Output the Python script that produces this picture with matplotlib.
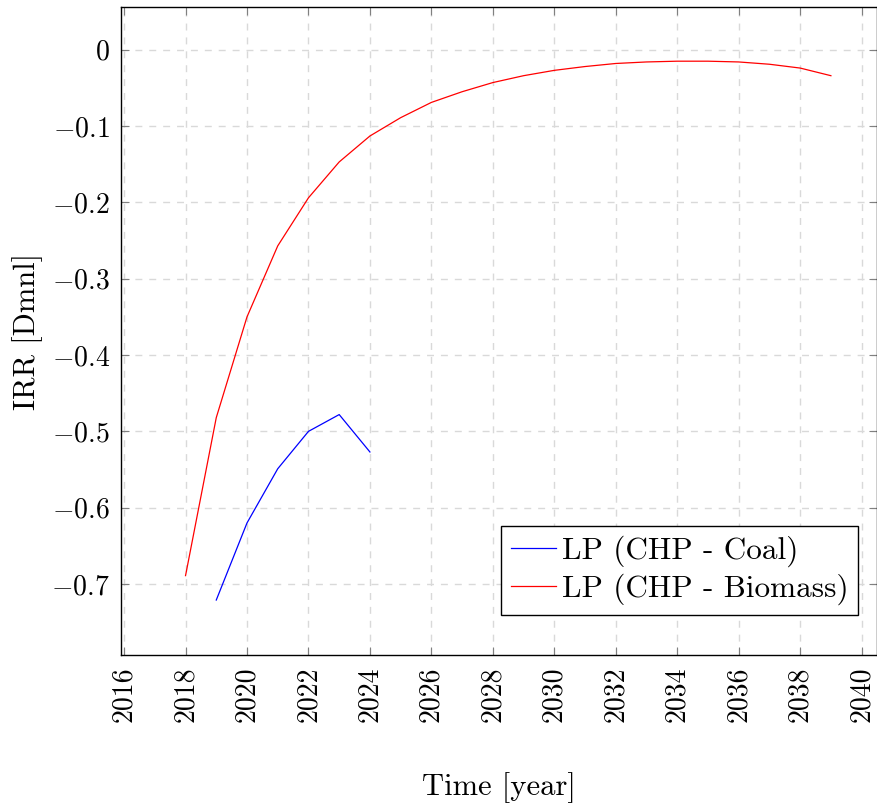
import numpy as np
import matplotlib
matplotlib.use('Agg')
import matplotlib.pyplot as plt

plt.rcParams['font.family'] = 'serif'
plt.rcParams['font.serif'] = ['cmr10']
plt.rcParams['mathtext.fontset'] = 'cm'
plt.rcParams['axes.formatter.use_mathtext'] = True

years_coal = [2019, 2020, 2021, 2022, 2023, 2024]
irr_coal = [-0.721, -0.620, -0.549, -0.500, -0.478, -0.527]

years_bio = list(range(2018, 2040))
irr_bio = [-0.689, -0.482, -0.350, -0.257, -0.194, -0.147, -0.113, -0.089,
           -0.069, -0.055, -0.043, -0.034, -0.027, -0.022, -0.018, -0.016,
           -0.015, -0.015, -0.016, -0.019, -0.024, -0.034]

xticks = list(range(2016, 2041, 2))
yticks = [-0.7, -0.6, -0.5, -0.4, -0.3, -0.2, -0.1, 0]

fig = plt.figure(figsize=(8.78, 8.06), dpi=100)
ax = fig.add_axes([121/878, 1 - 655/806, (877-121)/878, (655-7)/806])

ax.plot(years_coal, irr_coal, color='blue', lw=0.9, label='LP (CHP - Coal)')
ax.plot(years_bio, irr_bio, color='red', lw=0.9, label='LP (CHP - Biomass)')

ax.set_xlim(2015.9, 2040.5)
ax.set_ylim(-0.793, 0.056)
ax.set_xticks(xticks)
ax.set_xticklabels([str(x) for x in xticks], rotation=90, fontsize=20)
ax.set_yticks(yticks)
ax.set_yticklabels(['$%s$' % ('0' if v == 0 else '-%.1f' % abs(v)) for v in yticks], fontsize=20)

ax.grid(True, color='#d9d9d9', linestyle=(0, (5, 5)), lw=1)
ax.tick_params(direction='in', length=6, color='#808080', top=True, right=True, pad=8)
for s in ax.spines.values():
    s.set_linewidth(1)

ax.set_xlabel('Time [year]', fontsize=22, labelpad=36)
ax.set_ylabel('IRR [Dmnl]', fontsize=22, labelpad=6)

leg = ax.legend(loc='lower right', bbox_to_anchor=(0.975, 0.062), borderaxespad=0,
                fontsize=22.5, fancybox=False, edgecolor='black', framealpha=1,
                handlelength=1.45, borderpad=0.3, labelspacing=0.22, handletextpad=0.2)
leg.get_frame().set_linewidth(1)

plt.savefig('out.png', dpi=100)
